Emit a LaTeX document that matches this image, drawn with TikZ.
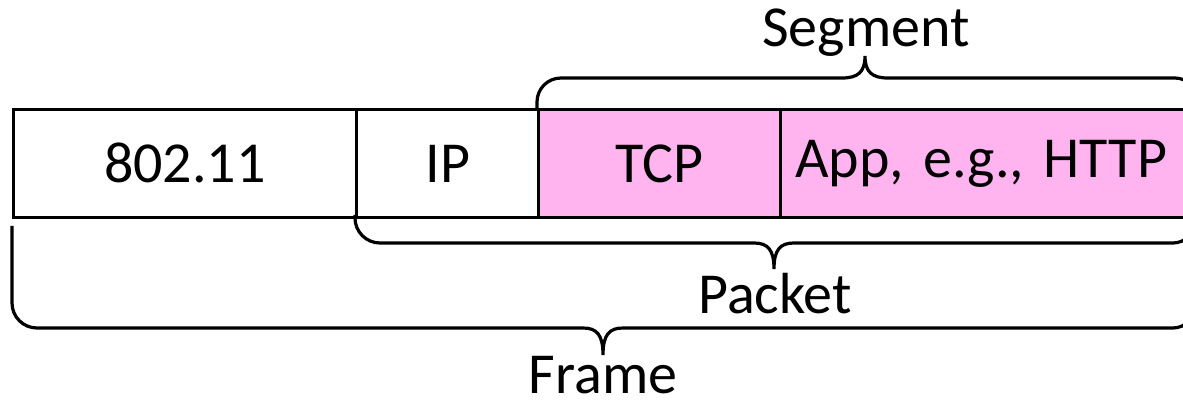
\documentclass[tikz,border=0pt]{standalone}
\usepackage{fontspec}
\setmainfont{Carlito}
\definecolor{segpink}{RGB}{255,180,240}
\begin{document}
\begin{tikzpicture}[x=1pt,y=-1pt,
  field/.style={draw=black,line width=2.8pt,minimum height=108pt,inner sep=0pt,font=\fontsize{58}{64}\selectfont,anchor=north west},
  lbl/.style={font=\fontsize{58}{64}\selectfont,inner sep=0pt,anchor=base},
  brc/.style={line width=3.2pt,line cap=butt}]
\useasboundingbox (0,0) rectangle (1183,403);
\node[field,minimum width=343pt] (wifi) at (12,108) {802.11};
\node[field,minimum width=183pt] (ip) at (355,108) {IP};
\node[field,fill=segpink,minimum width=242pt] (tcp) at (537,108) {TCP};
\node[field,fill=segpink,minimum width=420pt,text width=420pt,align=left] (app) at (779,108) {\hspace{15pt}App, e.g., HTTP};
% Segment brace (above)
\draw[brc] (537,109) -- (537,102)
  .. controls (537,88.7) and (547.7,78) .. (561,78) -- (842,78)
  .. controls (858,78) and (865,72) .. (865,56)
  .. controls (865,72) and (872,78) .. (888,78)
  -- (1175,78) .. controls (1187,78) and (1197,88) .. (1197,100) -- (1197,109);
\node[lbl] (seg) at (866,47) {Segment};
% Packet brace
\draw[brc] (355,215) -- (355,218)
  .. controls (355,231.8) and (366.2,243) .. (380,243) -- (754,243)
  .. controls (768,243) and (774,250) .. (774,269)
  .. controls (774,250) and (780,243) .. (794,243)
  -- (1173,243) .. controls (1185,243) and (1195,233) .. (1195,221) -- (1195,215);
\node[lbl] (pkt) at (775,313) {Packet};
% Frame brace
\draw[brc] (12,226) -- (12,303)
  .. controls (12,316.8) and (23.2,328) .. (37,328) -- (583,328)
  .. controls (597,328) and (603,335) .. (603,355)
  .. controls (603,335) and (609,328) .. (623,328)
  -- (1173,328) .. controls (1185,328) and (1195,318) .. (1195,306) -- (1195,226);
\node[lbl] (frm) at (603,393) {Frame};
\end{tikzpicture}
\end{document}
